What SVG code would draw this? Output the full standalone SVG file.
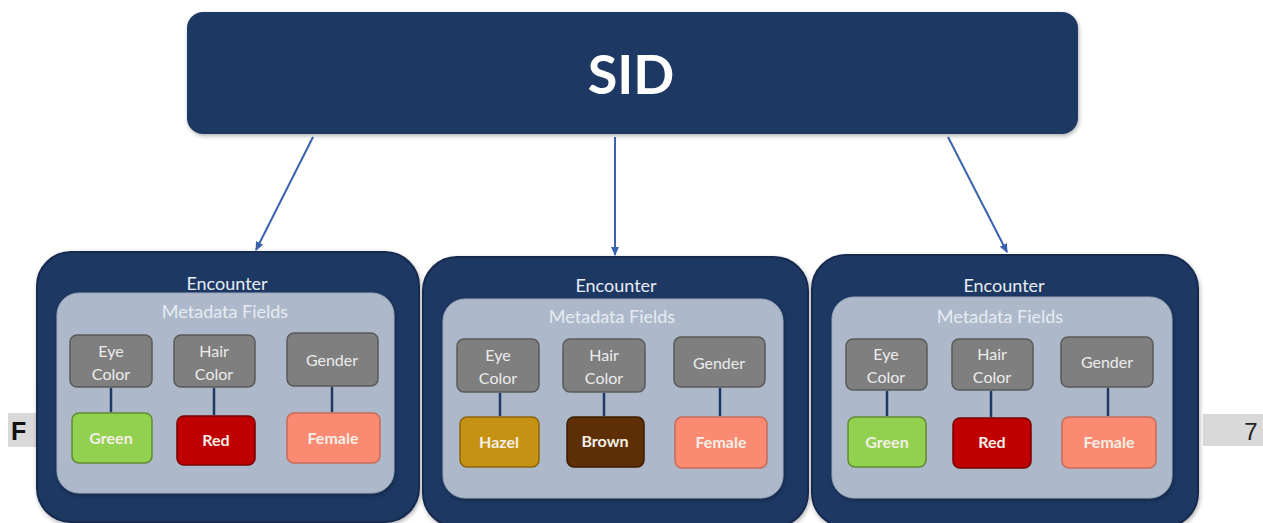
<svg xmlns="http://www.w3.org/2000/svg" width="1263" height="523" viewBox="0 0 1263 523">
<defs>
<style>
.outer{fill:#1f3864;stroke:#172a4d;stroke-width:2}
.inner{fill:#adb9ca;stroke:#9aa6b8;stroke-width:1}
.field{fill:#7f7f7f;stroke:#5a5a5a;stroke-width:1.5}
.t{font-family:Lato,"Liberation Sans",sans-serif;text-anchor:middle}
.enc{font-size:18px;fill:#e9edf4}
.meta{font-size:18px;fill:#e6ebf2}
.ft{font-size:16px;fill:#ececec}
.vt{font-size:16px;font-weight:bold;fill:#f3efe6}
.link{stroke:#1f3864;stroke-width:2.5}
.arrow{stroke:#3a62ad;stroke-width:2;fill:none}
</style>
<marker id="ah" markerWidth="10" markerHeight="10" refX="8" refY="5" orient="auto" markerUnits="userSpaceOnUse">
<path d="M0,1 L9,5 L0,9 z" fill="#3a62ad"/>
</marker>
<filter id="sh" x="-10%" y="-10%" width="120%" height="130%">
<feDropShadow dx="1" dy="2" stdDeviation="2" flood-color="#000" flood-opacity="0.3"/>
</filter>
</defs>
<rect width="1263" height="523" fill="#fff"/>

<g id="page-labels">
<rect x="8" y="413" width="40" height="34" fill="#d9d9d9"/>
<text x="11" y="440" font-family="Liberation Sans,sans-serif" font-weight="bold" font-size="25" fill="#111">F</text>
<rect x="1203" y="414" width="60" height="32" fill="#d9d9d9"/>
<text x="1251" y="440" font-family="Liberation Sans,sans-serif" font-size="24" fill="#222" text-anchor="middle">7</text>
</g>

<g id="sid">
<rect x="187" y="12" width="891" height="122" rx="16" fill="#1f3864" filter="url(#sh)"/>
<text x="631" y="94" class="t" font-size="54" font-weight="bold" fill="#ffffff">SID</text>
</g>

<g id="encounter-1">
<rect class="outer" x="37" y="252" width="382" height="270" rx="34" filter="url(#sh)"/>
<text class="t enc" x="227" y="290">Encounter</text>
<rect class="inner" x="57" y="293" width="337" height="200" rx="22" filter="url(#sh)"/>
<text class="t meta" x="225" y="318">Metadata Fields</text>
<g id="e1-eye"><rect class="field" x="70" y="335" width="82" height="52" rx="7"/><text class="t ft" x="111" y="357">Eye</text><text class="t ft" x="111" y="380">Color</text></g>
<g id="e1-hair"><rect class="field" x="174" y="335" width="81" height="52" rx="7"/><text class="t ft" x="214" y="357">Hair</text><text class="t ft" x="214" y="380">Color</text></g>
<g id="e1-gender"><rect class="field" x="287" y="333" width="91" height="53" rx="7"/><text class="t ft" x="332" y="366">Gender</text></g>
<g id="e1-green"><rect x="72" y="413" width="80" height="50" rx="7" fill="#92d050" stroke="#5f8a33" stroke-width="1.5"/><text class="t vt" x="111" y="444">Green</text></g>
<g id="e1-red"><rect x="177" y="416" width="78" height="49" rx="7" fill="#c00000" stroke="#7a0000" stroke-width="1.5"/><text class="t vt" x="216" y="446">Red</text></g>
<g id="e1-female"><rect x="287" y="413" width="93" height="50" rx="7" fill="#fb8a72" stroke="#c86a58" stroke-width="1.5"/><text class="t vt" x="333" y="444">Female</text></g>
</g>

<g id="encounter-2">
<rect class="outer" x="423" y="257" width="385" height="270" rx="34" filter="url(#sh)"/>
<text class="t enc" x="616" y="292">Encounter</text>
<rect class="inner" x="443" y="299" width="340" height="199" rx="22" filter="url(#sh)"/>
<text class="t meta" x="612" y="323">Metadata Fields</text>
<g id="e2-eye"><rect class="field" x="457" y="339" width="82" height="53" rx="7"/><text class="t ft" x="498" y="361">Eye</text><text class="t ft" x="498" y="384">Color</text></g>
<g id="e2-hair"><rect class="field" x="563" y="339" width="82" height="53" rx="7"/><text class="t ft" x="604" y="361">Hair</text><text class="t ft" x="604" y="384">Color</text></g>
<g id="e2-gender"><rect class="field" x="674" y="337" width="91" height="50" rx="7"/><text class="t ft" x="719" y="369">Gender</text></g>
<g id="e2-hazel"><rect x="460" y="417" width="79" height="50" rx="7" fill="#c69214" stroke="#8a650a" stroke-width="1.5"/><text class="t vt" x="499" y="448">Hazel</text></g>
<g id="e2-brown"><rect x="567" y="417" width="77" height="50" rx="7" fill="#5e2f05" stroke="#3b1d02" stroke-width="1.5"/><text class="t vt" x="605" y="447">Brown</text></g>
<g id="e2-female"><rect x="675" y="417" width="92" height="51" rx="7" fill="#fb8a72" stroke="#c86a58" stroke-width="1.5"/><text class="t vt" x="721" y="448">Female</text></g>
</g>

<g id="encounter-3">
<rect class="outer" x="812" y="255" width="386" height="272" rx="34" filter="url(#sh)"/>
<text class="t enc" x="1004" y="292">Encounter</text>
<rect class="inner" x="832" y="297" width="340" height="201" rx="22" filter="url(#sh)"/>
<text class="t meta" x="1000" y="323">Metadata Fields</text>
<g id="e3-eye"><rect class="field" x="846" y="339" width="81" height="51" rx="7"/><text class="t ft" x="886" y="360">Eye</text><text class="t ft" x="886" y="383">Color</text></g>
<g id="e3-hair"><rect class="field" x="952" y="339" width="81" height="51" rx="7"/><text class="t ft" x="992" y="360">Hair</text><text class="t ft" x="992" y="383">Color</text></g>
<g id="e3-gender"><rect class="field" x="1061" y="337" width="92" height="50" rx="7"/><text class="t ft" x="1107" y="368">Gender</text></g>
<g id="e3-green"><rect x="848" y="417" width="78" height="50" rx="7" fill="#92d050" stroke="#5f8a33" stroke-width="1.5"/><text class="t vt" x="887" y="448">Green</text></g>
<g id="e3-red"><rect x="953" y="418" width="78" height="50" rx="7" fill="#c00000" stroke="#7a0000" stroke-width="1.5"/><text class="t vt" x="992" y="448">Red</text></g>
<g id="e3-female"><rect x="1062" y="417" width="94" height="51" rx="7" fill="#fb8a72" stroke="#c86a58" stroke-width="1.5"/><text class="t vt" x="1109" y="448">Female</text></g>
</g>

<g id="connectors">
<line class="arrow" x1="313" y1="137" x2="256" y2="250" marker-end="url(#ah)"/>
<line class="arrow" x1="615" y1="137" x2="615" y2="255" marker-end="url(#ah)"/>
<line class="arrow" x1="948" y1="137" x2="1007" y2="252" marker-end="url(#ah)"/>
<line class="link" x1="111" y1="388" x2="111" y2="412"/>
<line class="link" x1="214" y1="388" x2="214" y2="415"/>
<line class="link" x1="332" y1="387" x2="332" y2="412"/>
<line class="link" x1="500" y1="393" x2="500" y2="416"/>
<line class="link" x1="604" y1="393" x2="604" y2="416"/>
<line class="link" x1="720" y1="388" x2="720" y2="416"/>
<line class="link" x1="887" y1="391" x2="887" y2="416"/>
<line class="link" x1="991" y1="391" x2="991" y2="417"/>
<line class="link" x1="1108" y1="388" x2="1108" y2="416"/>
</g>
</svg>
